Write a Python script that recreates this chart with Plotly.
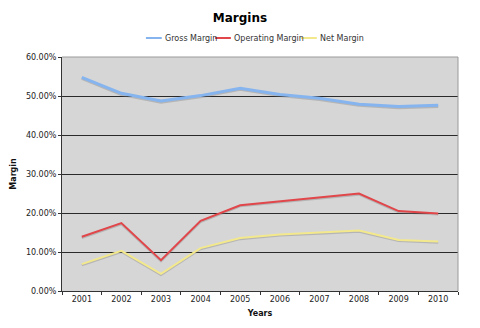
import plotly.graph_objects as go

# Margin ratios by year (fractions)
years = ["2001", "2002", "2003", "2004", "2005", "2006", "2007", "2008", "2009", "2010"]
gross_margin = [0.548, 0.507, 0.487, 0.501, 0.520, 0.504, 0.494, 0.479, 0.473, 0.476]
operating_margin = [0.139, 0.174, 0.079, 0.180, 0.220, 0.230, 0.240, 0.250, 0.205, 0.199]
net_margin = [0.069, 0.103, 0.044, 0.110, 0.136, 0.145, 0.150, 0.155, 0.131, 0.127]

FONT = "DejaVu Sans"
W, H = 480, 328
ML, MR, MT, MB = 57, 22, 57, 37

fig = go.Figure()
series = [
    ("Gross Margin", gross_margin, "#86b4ee", 3),
    ("Operating Margin", operating_margin, "#e0464a", 2),
    ("Net Margin", net_margin, "#f3e98c", 2),
]
for name, vals, color, width in series:
    # soft drop shadow under each line
    fig.add_trace(go.Scatter(
        x=years, y=[v - 0.003 for v in vals], mode="lines",
        line=dict(color="rgba(120,120,120,0.35)", width=width),
        showlegend=False, hoverinfo="skip",
    ))
    fig.add_trace(go.Scatter(
        x=years, y=vals, mode="lines", name=name,
        line=dict(color=color, width=width), showlegend=False,
    ))


def px_x(px):
    return (px - ML) / (W - ML - MR)


def px_y(py):
    return (H - MB - py) / (H - MT - MB)


# compact legend row above the plot: short line swatch followed by the label
legend_items = [("Gross Margin", "#86b4ee", 142), ("Operating Margin", "#e0464a", 212),
                ("Net Margin", "#f3e98c", 299)]
ly = px_y(38)
for label, color, x0 in legend_items:
    fig.add_shape(type="line", xref="paper", yref="paper",
                  x0=px_x(x0), x1=px_x(x0 + 16), y0=ly, y1=ly,
                  line=dict(color=color, width=2))
    fig.add_annotation(text=label, xref="paper", yref="paper", x=px_x(x0 + 17), y=ly,
                       xanchor="left", yanchor="middle", showarrow=False,
                       font=dict(family=FONT, size=8, color="#333"))

fig.update_layout(
    width=W, height=H,
    margin=dict(l=ML, r=MR, t=MT, b=MB),
    paper_bgcolor="white",
    plot_bgcolor="#d6d6d6",
    font=dict(family=FONT, size=8, color="#222"),
    title=dict(text="<b>Margins</b>", x=0.5, xanchor="center", y=0.945, yanchor="middle",
               font=dict(family=FONT, size=12, color="black")),
    showlegend=False,
)

fig.update_xaxes(
    type="category", range=[-0.5, 9.5],
    showgrid=False, showline=True, linecolor="#333", linewidth=1,
    ticks="outside", ticklen=3, tickcolor="#333", tickson="boundaries",
    tickfont=dict(family=FONT, size=8, color="#222"),
    title=dict(text="<b>Years</b>", font=dict(family=FONT, size=8, color="#111"), standoff=7),
)
fig.update_yaxes(
    range=[0, 0.6], dtick=0.1, tickformat=".2%",
    showgrid=True, gridcolor="#2a2a2a", gridwidth=1,
    showline=True, linecolor="#333", linewidth=1, zeroline=False,
    ticks="outside", ticklen=3, tickcolor="#333",
    tickfont=dict(family=FONT, size=8, color="#222"),
    title=dict(text="<b>Margin</b>", font=dict(family=FONT, size=8, color="#111"), standoff=8),
)

# light frame on the top and right of the plotting area
fig.add_shape(type="line", xref="x domain", yref="y domain", x0=0, x1=1, y0=1, y1=1,
              line=dict(color="#9a9a9a", width=1))
fig.add_shape(type="line", xref="x domain", yref="y domain", x0=1, x1=1, y0=0, y1=1,
              line=dict(color="#9a9a9a", width=1))

fig.write_html("out.html")
